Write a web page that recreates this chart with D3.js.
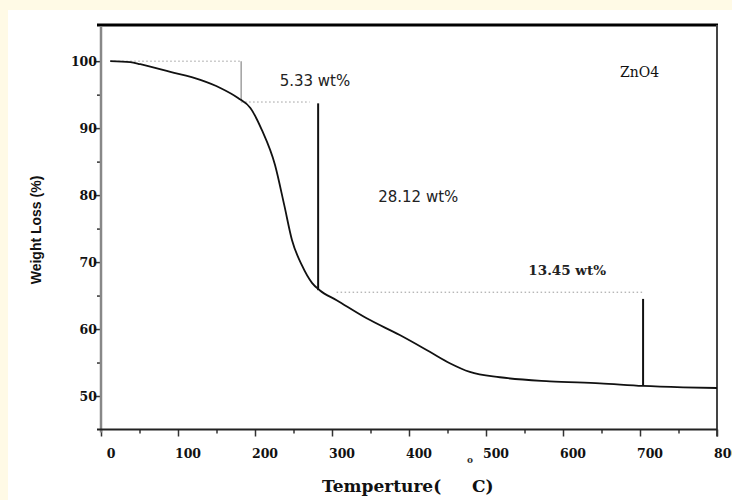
<!DOCTYPE html>
<html>
<head>
<meta charset="utf-8">
<script src="https://cdn.jsdelivr.net/npm/d3@7"></script>
<style>
  body { margin: 0; background: #fffae6; }
  svg { display: block; }
</style>
</head>
<body>
<script>
// Chart Params
var svgWidth = 732;
var svgHeight = 500;
var plot = { left: 101, right: 717, top: 25, bottom: 429.5 };

// TGA curve (temperature in C, weight %)
var temps   = [12, 38, 51, 90, 129, 155, 178, 194, 209, 226, 238, 248, 261, 274, 284, 306, 345, 388, 427, 453, 479, 518, 583, 648, 704, 756, 800];
var weights = [100, 99.85, 99.55, 98.4, 97.2, 96.0, 94.5, 93.0, 89.7, 84.5, 78.5, 73.3, 69.5, 66.9, 65.8, 64.3, 61.6, 59.1, 56.6, 54.9, 53.6, 52.8, 52.2, 51.9, 51.5, 51.3, 51.2];

var xTicks = [0, 100, 200, 300, 400, 500, 600, 700, 800];
var yTicks = [50, 60, 70, 80, 90, 100];

// step guides
var dotStart = [12, 182, 306];
var dotEnd   = [182, 271, 706];
var dotLevel = [100, 93.9, 65.5];
var dropTemp = [182, 282, 704];
var dropTop  = [100, 93.7, 64.5];
var dropBot  = [94.0, 65.8, 51.5];

var stepLabels = ["5.33 wt%", "28.12 wt%", "13.45 wt%"];
var labelTemp  = [232, 360, 555];
var labelLevel = [96.3, 79.0, 68.1];

var svg = d3.select("body")
  .append("svg")
  .attr("width", svgWidth)
  .attr("height", svgHeight);

// cream page with white panel
svg.append("rect").attr("width", svgWidth).attr("height", svgHeight).attr("fill", "#fffae6");
svg.append("rect").attr("x", 8).attr("y", 10).attr("width", svgWidth - 8).attr("height", svgHeight - 10).attr("fill", "#fff");

var xScale = d3.scaleLinear().domain([0, 800]).range([plot.left, plot.right]);
var yScale = d3.scaleLinear().domain([45, 105.4]).range([plot.bottom, plot.top]);

var chartGroup = svg.append("g");

// frame: top (thick black) and right borders
chartGroup.append("line")
  .attr("x1", plot.left - 4).attr("x2", plot.right + 1)
  .attr("y1", plot.top).attr("y2", plot.top)
  .attr("stroke", "#000").attr("stroke-width", 3);
chartGroup.append("line")
  .attr("x1", plot.right).attr("x2", plot.right)
  .attr("y1", plot.top).attr("y2", plot.bottom + 7)
  .attr("stroke", "#444").attr("stroke-width", 2);

// minor ticks
var xMinor = d3.range(50, 800, 100);
var yMinor = d3.range(55, 105, 10);

var bottomAxis = d3.axisBottom(xScale).tickValues(xTicks).tickSize(7).tickFormat("");
var bottomMinor = d3.axisBottom(xScale).tickValues(xMinor).tickSize(4).tickFormat("");
var leftAxis = d3.axisLeft(yScale).tickValues(yTicks).tickSize(7).tickFormat("");
var leftMinor = d3.axisLeft(yScale).tickValues(yMinor).tickSize(4).tickFormat("");

chartGroup.append("g").attr("transform", `translate(0, ${plot.bottom})`).call(bottomAxis);
chartGroup.append("g").attr("transform", `translate(0, ${plot.bottom})`).call(bottomMinor);
chartGroup.append("g").attr("transform", `translate(${plot.left}, 0)`).call(leftAxis);
chartGroup.append("g").attr("transform", `translate(${plot.left}, 0)`).call(leftMinor);

chartGroup.selectAll(".domain").remove();
chartGroup.selectAll(".tick line").attr("stroke", "#333").attr("stroke-width", 1.5);

// axis lines
chartGroup.append("line")
  .attr("x1", plot.left).attr("x2", plot.left)
  .attr("y1", plot.top + 2).attr("y2", plot.bottom + 3)
  .attr("stroke", "#888").attr("stroke-width", 2.5);
chartGroup.append("line")
  .attr("x1", plot.left - 4).attr("x2", plot.right)
  .attr("y1", plot.bottom).attr("y2", plot.bottom)
  .attr("stroke", "#222").attr("stroke-width", 2);

// tick labels
chartGroup.selectAll(".xlab")
  .data(xTicks)
  .enter()
  .append("text")
    .attr("class", "xlab")
    .attr("x", d => xScale(d) + 10)
    .attr("y", 458)
    .attr("text-anchor", "middle")
    .style("font", "bold 12.5px 'DejaVu Serif', serif")
    .attr("fill", "#111")
    .text(d => d);

chartGroup.selectAll(".ylab")
  .data(yTicks)
  .enter()
  .append("text")
    .attr("class", "ylab")
    .attr("x", 97)
    .attr("y", d => yScale(d) + 4.5)
    .attr("text-anchor", "end")
    .style("font", "bold 12.5px 'DejaVu Serif', serif")
    .attr("fill", "#111")
    .text(d => d);

// dotted guides
var guides = chartGroup.append("g");
dotLevel.forEach(function(v, i) {
  guides.append("line")
    .attr("x1", xScale(dotStart[i])).attr("x2", xScale(dotEnd[i]))
    .attr("y1", yScale(v)).attr("y2", yScale(v))
    .attr("stroke", "#999").attr("stroke-width", 1)
    .attr("stroke-dasharray", "1.5,2.5");
});

// drop lines
dropTemp.forEach(function(t, i) {
  guides.append("line")
    .attr("x1", xScale(t)).attr("x2", xScale(t))
    .attr("y1", yScale(dropTop[i])).attr("y2", yScale(dropBot[i]))
    .attr("stroke", i == 0 ? "#888" : "#111")
    .attr("stroke-width", i == 0 ? 1.2 : 2);
});

// TGA curve
var tga = temps.map((t, i) => [t, weights[i]]);
var line = d3.line()
  .x(d => xScale(d[0]))
  .y(d => yScale(d[1]))
  .curve(d3.curveMonotoneX);

chartGroup.append("path")
  .datum(tga)
  .attr("d", line)
  .attr("fill", "none")
  .attr("stroke", "#111")
  .attr("stroke-width", 1.8);

// step labels
stepLabels.forEach(function(s, i) {
  chartGroup.append("text")
    .attr("x", xScale(labelTemp[i]))
    .attr("y", yScale(labelLevel[i]))
    .style("font", i == 2 ? "bold 13.5px 'DejaVu Serif', serif" : "15px 'DejaVu Sans', sans-serif")
    .attr("fill", "#222")
    .text(s);
});

chartGroup.append("text")
  .attr("x", xScale(674))
  .attr("y", yScale(97.6))
  .style("font", "14px 'DejaVu Serif', serif")
  .attr("fill", "#111")
  .text("ZnO4");

// axis titles
chartGroup.append("text")
  .attr("transform", "translate(41, 230) rotate(-90)")
  .attr("text-anchor", "middle")
  .style("font", "bold 14px 'Liberation Sans Narrow', 'Liberation Sans', sans-serif")
  .attr("fill", "#111")
  .text("Weight Loss (%)");

chartGroup.append("text")
  .attr("x", 322)
  .attr("y", 492)
  .style("font", "bold 17px 'DejaVu Serif', serif")
  .attr("fill", "#111")
  .text("Temperture(");

chartGroup.append("text")
  .attr("x", 467)
  .attr("y", 463)
  .style("font", "bold 9px 'DejaVu Serif', serif")
  .attr("fill", "#333")
  .text("o");

chartGroup.append("text")
  .attr("x", 472)
  .attr("y", 492)
  .style("font", "bold 17px 'DejaVu Serif', serif")
  .attr("fill", "#111")
  .text("C)");
</script>
</body>
</html>
